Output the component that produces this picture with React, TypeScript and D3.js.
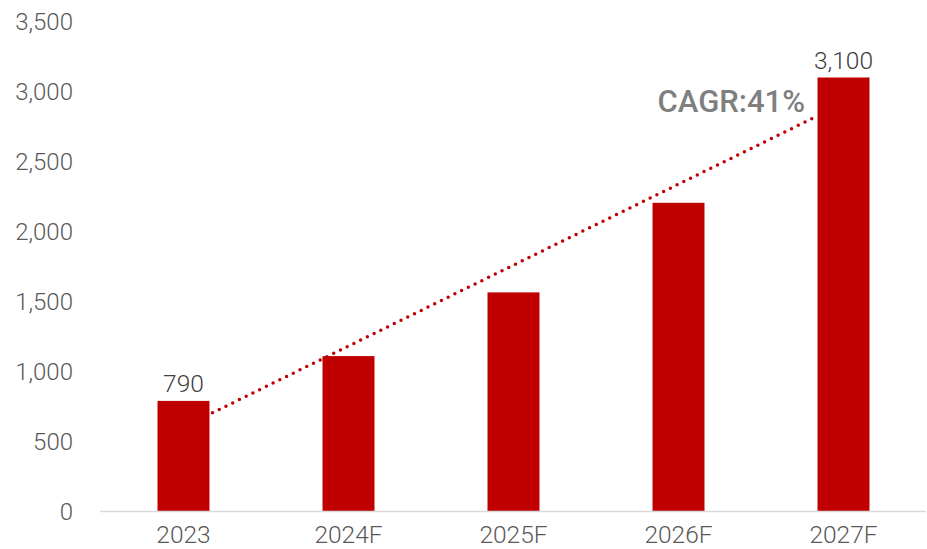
import React from "react";
import * as d3 from "d3";

const categories = ["2023", "2024F", "2025F", "2026F", "2027F"];
const values = [790, 1110, 1565, 2205, 3100];
const dataLabels = ["790", "", "", "", "3,100"];
const yTicks = [0, 500, 1000, 1500, 2000, 2500, 3000, 3500];
const trendFrom = { cat: "2023", value: 705 };
const trendTo = { cat: "2027F", value: 2815 };
const cagrLabel = "CAGR:41%";

const W = 927;
const H = 549;

export default function App() {
  const x = d3.scaleBand<string>().domain(categories).range([101, 926]).paddingInner(0.685).paddingOuter(0.3425);
  const y = d3.scaleLinear().domain([0, 3500]).range([511.5, 21.5]);
  const fmt = d3.format(",");
  const bw = x.bandwidth();
  const x1 = (x(trendFrom.cat) as number) + bw + 3;
  const x2 = (x(trendTo.cat) as number) - 3;
  const y1 = y(trendFrom.value);
  const y2 = y(trendTo.value);
  const font = "Roboto, 'Noto Sans', sans-serif";
  return (
    <svg width={W} height={H} style={{ position: "absolute", left: 0, top: 0, background: "#fff" }}>
      {yTicks.map((t) => (
        <text key={t} x={73} y={y(t)} dy="0.35em" textAnchor="end" fontFamily={font} fontSize={24} fontWeight={300} fill="#595959">
          {fmt(t)}
        </text>
      ))}
      {categories.map((c, i) => (
        <rect key={c} x={x(c)} y={y(values[i])} width={bw} height={y(0) - y(values[i])} fill="#c00000" />
      ))}
      <line x1={100} x2={926} y1={y(0)} y2={y(0)} stroke="#d9d9d9" strokeWidth={1.5} />
      {categories.map((c) => (
        <text key={c} x={(x(c) as number) + bw / 2} y={543} textAnchor="middle" fontFamily={font} fontSize={24.5} fontWeight={300} fill="#595959">
          {c}
        </text>
      ))}
      {categories.map((c, i) =>
        dataLabels[i] ? (
          <text key={c} x={(x(c) as number) + bw / 2} y={y(values[i]) - 9} textAnchor="middle" fontFamily={font} fontSize={24.5} fontWeight={300} fill="#404040">
            {dataLabels[i]}
          </text>
        ) : null
      )}
      <line x1={x1} y1={y1} x2={x2} y2={y2} stroke="#c00000" strokeWidth={3.5} strokeDasharray="0 7.5" strokeLinecap="round" />
      <text x={805} y={112} textAnchor="end" fontFamily={font} fontSize={31} fontWeight={500} fill="#7f7f7f">
        {cagrLabel}
      </text>
    </svg>
  );
}
